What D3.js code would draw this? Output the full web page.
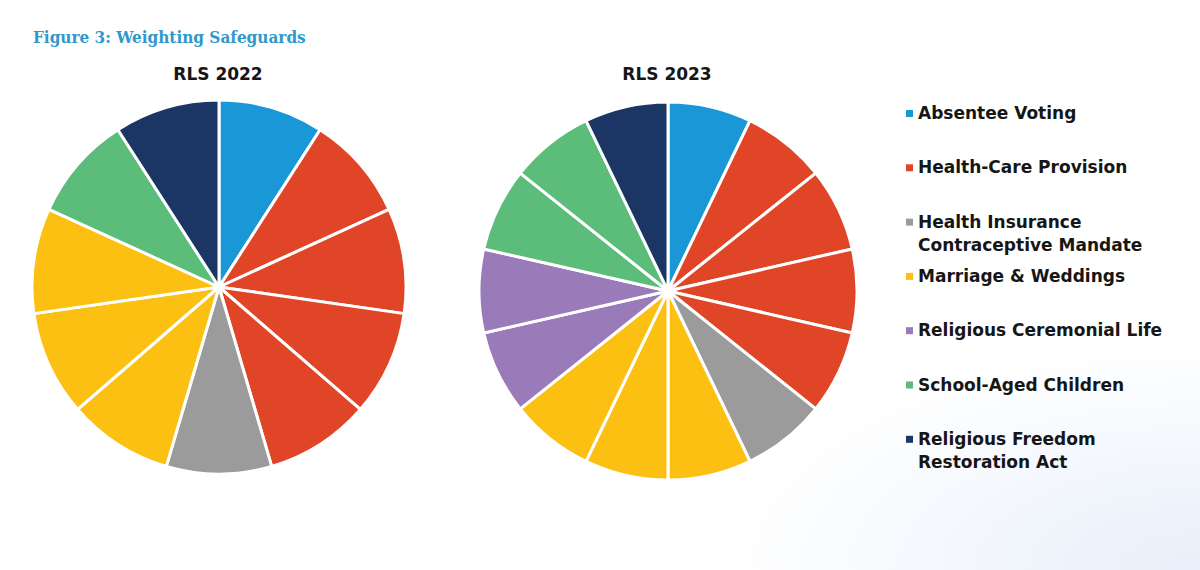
<!DOCTYPE html>
<html lang="en">

<head>
  <meta charset="UTF-8">
  <title>Figure 3: Weighting Safeguards</title>
  <script src="https://d3js.org/d3.v7.min.js"></script>
  <style>
    body {
      margin: 0;
      background: #ffffff;
    }

    .title {
      font-family: "DejaVu Serif Condensed", "DejaVu Serif", serif;
      font-weight: bold;
      fill: #2f98cc;
    }

    .pie-title,
    .legend text {
      font-family: "DejaVu Sans", sans-serif;
      font-weight: bold;
      fill: #161616;
    }
  </style>
</head>

<body>
  <div id="chart"></div>
  <script>
    const categories = [
      ["Absentee Voting"],
      ["Health-Care Provision"],
      ["Health Insurance", "Contraceptive Mandate"],
      ["Marriage & Weddings"],
      ["Religious Ceremonial Life"],
      ["School-Aged Children"],
      ["Religious Freedom", "Restoration Act"]
    ];
    const colors = ["#1a97d6", "#e04527", "#9b9b9b", "#fbc012", "#9a7bb9", "#5bbd79", "#1b3664"];
    // number of safeguards in each category
    const counts2022 = [1, 4, 1, 3, 0, 1, 1];
    const counts2023 = [1, 4, 1, 3, 2, 2, 1];
    const years = ["RLS 2022", "RLS 2023"];

    const width = 1200, height = 570;

    const svg = d3.select("#chart")
      .append("svg")
      .attr("width", width)
      .attr("height", height);

    // soft blue wash in the lower right corner
    const defs = svg.append("defs");
    const grad = defs.append("radialGradient")
      .attr("id", "wash")
      .attr("cx", "100%").attr("cy", "100%").attr("r", "40%");
    grad.append("stop").attr("offset", "0%").attr("stop-color", "#e8effa");
    grad.append("stop").attr("offset", "100%").attr("stop-color", "#ffffff");
    svg.append("rect")
      .attr("width", width).attr("height", height)
      .attr("fill", "url(#wash)");

    svg.append("text")
      .attr("class", "title")
      .attr("x", 33)
      .attr("y", 43)
      .style("font-size", "17px")
      .text("Figure 3: Weighting Safeguards");

    function slices(counts) {
      const out = [];
      counts.forEach((n, i) => {
        for (let k = 0; k < n; k++) out.push({cat: i, value: 1});
      });
      return out;
    }

    const pie = d3.pie().sort(null).value(d => d.value);

    const pies = [
      {name: years[0], counts: counts2022, cx: 219, cy: 287, r: 187},
      {name: years[1], counts: counts2023, cx: 668, cy: 291, r: 189}
    ];

    pies.forEach(p => {
      const arc = d3.arc().innerRadius(0).outerRadius(p.r);
      const g = svg.append("g")
        .attr("transform", "translate(" + p.cx + "," + p.cy + ")");

      g.selectAll("path")
        .data(pie(slices(p.counts)))
        .enter().append("path")
        .attr("d", arc)
        .attr("fill", d => colors[d.data.cat])
        .attr("stroke", "#fff")
        .attr("stroke-width", 3)
        .attr("stroke-linejoin", "round");

      svg.append("text")
        .attr("class", "pie-title")
        .attr("x", p.cx - 1)
        .attr("y", 80)
        .attr("text-anchor", "middle")
        .style("font-size", "17px")
        .text(p.name);
    });

    // legend
    const legend = svg.append("g")
      .attr("class", "legend")
      .attr("transform", "translate(906,0)");

    const items = legend.selectAll("g")
      .data(categories)
      .enter().append("g")
      .attr("transform", (d, i) => "translate(0," + (119 + i * 54.3) + ")");

    items.append("rect")
      .attr("x", 0)
      .attr("y", -9)
      .attr("width", 7)
      .attr("height", 7)
      .attr("fill", (d, i) => colors[i]);

    items.append("text")
      .style("font-size", "17px")
      .selectAll("tspan")
      .data(d => d)
      .enter().append("tspan")
      .attr("x", 12)
      .attr("y", (d, i) => i * 23)
      .text(d => d);
  </script>
</body>

</html>
